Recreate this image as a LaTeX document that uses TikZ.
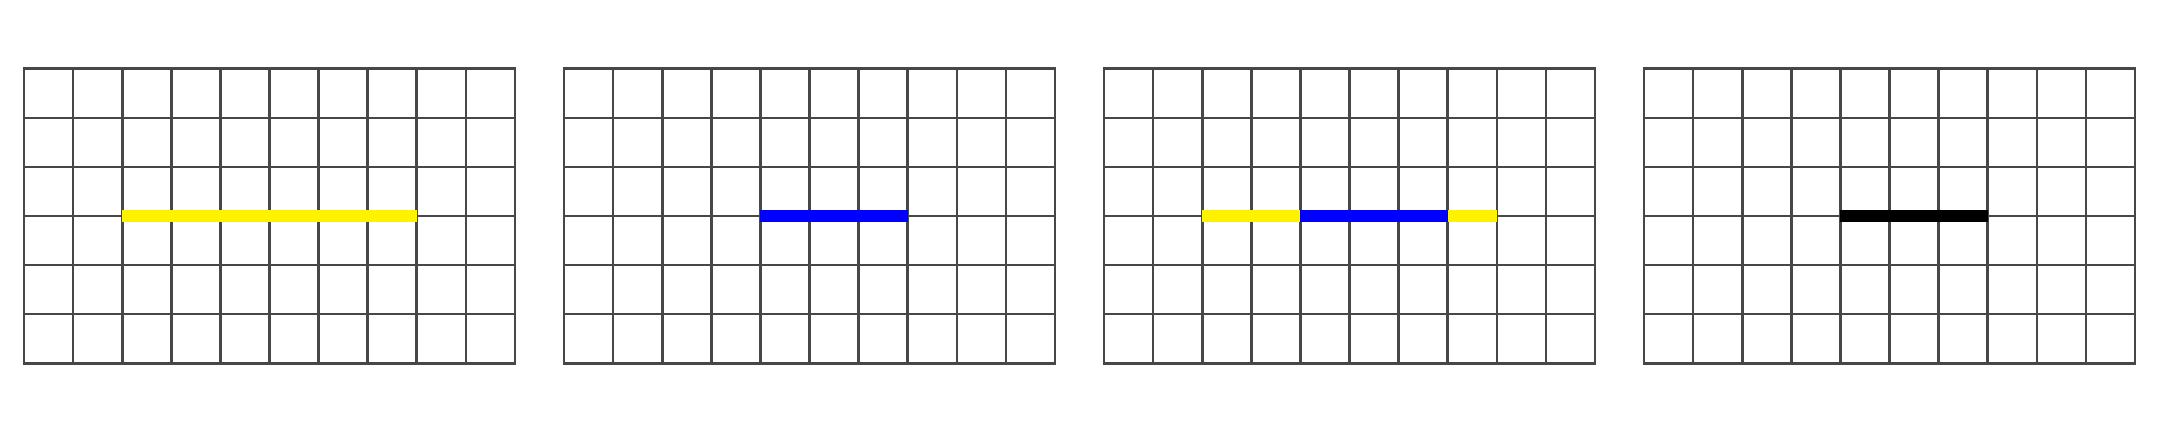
\documentclass[tikz,border=0pt]{standalone}
\usepackage{xcolor}
\usepackage{tikz}
\usetikzlibrary{arrows.meta}

\begin{document}
\begin{tikzpicture}[scale=1.0,
    gridline/.style={line width=1.5pt, black!72, line cap=rect},
    segbar/.style={line width=7.3pt}]
  \useasboundingbox (-0.49,-1.4) rectangle (43.51,7.4);
  % grades 10x6
  \foreach \ox in {0,11,22,33}
    \draw[gridline] (\ox,0) grid (\ox+10,6);
  % segmentos
  \draw[segbar, yellow] (2,3) -- (8,3);
  \draw[segbar, blue] (15,3) -- (18,3);
  \draw[segbar, yellow] (24,3) -- (26,3);
  \draw[segbar, blue] (26,3) -- (29,3);
  \draw[segbar, yellow] (29,3) -- (30,3);
  \draw[segbar, black] (37,3) -- (40,3);
\end{tikzpicture}
\end{document}
